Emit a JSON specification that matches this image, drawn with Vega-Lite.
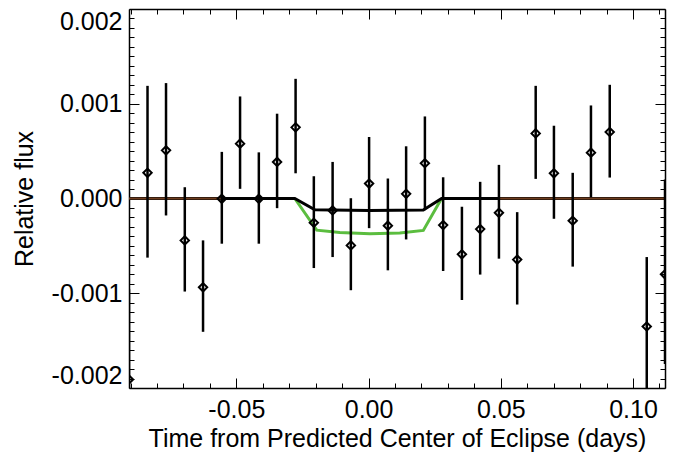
{
  "$schema": "https://vega.github.io/schema/vega-lite/v6.json",
  "width": 536,
  "height": 379,
  "autosize": "none",
  "padding": {"left": 129, "top": 9, "right": 18, "bottom": 67},
  "background": "white",
  "config": {
    "view": {"stroke": null},
    "font": "Liberation Sans",
    "axis": {
      "grid": false,
      "domainColor": "black",
      "domainWidth": 1.5,
      "tickColor": "black",
      "tickWidth": 1,
      "labelColor": "black",
      "labelFont": "Liberation Sans",
      "labelFontSize": 25,
      "titleFont": "Liberation Sans",
      "titleFontSize": 25,
      "titleFontWeight": "normal",
      "titleColor": "black",
      "labelOverlap": false,
      "labelBound": false
    }
  },
  "datasets": {
    "obs": [
      {"t": -0.0906, "flux": -0.00191, "lo": -0.00286, "hi": -0.000958},
      {"t": -0.0836, "flux": 0.000271, "lo": -0.000624, "hi": 0.001189},
      {"t": -0.0766, "flux": 0.000508, "lo": -0.000179, "hi": 0.001218},
      {"t": -0.0695, "flux": -0.000442, "lo": -0.000982, "hi": 0.000119},
      {"t": -0.0626, "flux": -0.000937, "lo": -0.001407, "hi": -0.000442},
      {"t": -0.0555, "flux": -0.000003, "lo": -0.000477, "hi": 0.000492},
      {"t": -0.0486, "flux": 0.000579, "lo": 0.000102, "hi": 0.001077},
      {"t": -0.0415, "flux": -0.000003, "lo": -0.000477, "hi": 0.000487},
      {"t": -0.0346, "flux": 0.000386, "lo": -0.000102, "hi": 0.000895},
      {"t": -0.0276, "flux": 0.000751, "lo": 0.000266, "hi": 0.001263},
      {"t": -0.0207, "flux": -0.000256, "lo": -0.000734, "hi": 0.000235},
      {"t": -0.0136, "flux": -0.000126, "lo": -0.000618, "hi": 0.000386},
      {"t": -0.0067, "flux": -0.000495, "lo": -0.000968, "hi": 0.000003},
      {"t": 0.0002, "flux": 0.000158, "lo": -0.000313, "hi": 0.000649},
      {"t": 0.0073, "flux": -0.000287, "lo": -0.000758, "hi": 0.000211},
      {"t": 0.0142, "flux": 0.000049, "lo": -0.000432, "hi": 0.000551},
      {"t": 0.0213, "flux": 0.000372, "lo": -0.000123, "hi": 0.000866},
      {"t": 0.0282, "flux": -0.000281, "lo": -0.000765, "hi": 0.000224},
      {"t": 0.0353, "flux": -0.000589, "lo": -0.001071, "hi": -0.000087},
      {"t": 0.0422, "flux": -0.000323, "lo": -0.000803, "hi": 0.000176},
      {"t": 0.0493, "flux": -0.000151, "lo": -0.000635, "hi": 0.000355},
      {"t": 0.0562, "flux": -0.000645, "lo": -0.001119, "hi": -0.000144},
      {"t": 0.0632, "flux": 0.000687, "lo": 0.000207, "hi": 0.001189},
      {"t": 0.0701, "flux": 0.000266, "lo": -0.000214, "hi": 0.000768},
      {"t": 0.0772, "flux": -0.000235, "lo": -0.000719, "hi": 0.000271},
      {"t": 0.0841, "flux": 0.000484, "lo": 0.000014, "hi": 0.000982},
      {"t": 0.0912, "flux": 0.000702, "lo": 0.000221, "hi": 0.0012},
      {"t": 0.1052, "flux": -0.001351, "lo": -0.002084, "hi": -0.000618},
      {"t": 0.1121, "flux": -0.0008, "lo": -0.001747, "hi": 0.0002}
    ],
    "green": [
      {"t": -0.0279, "flux": 0},
      {"t": -0.0196, "flux": -0.000334},
      {"t": -0.0109, "flux": -0.000358},
      {"t": 0.0005, "flux": -0.000373},
      {"t": 0.0118, "flux": -0.000363},
      {"t": 0.0207, "flux": -0.000337},
      {"t": 0.0276, "flux": 0}
    ],
    "black": [
      {"t": -0.0906, "flux": 0},
      {"t": -0.0279, "flux": 0},
      {"t": -0.0203, "flux": -0.000119},
      {"t": 0.0002, "flux": -0.000126},
      {"t": 0.0207, "flux": -0.000122},
      {"t": 0.0276, "flux": 0},
      {"t": 0.1121, "flux": 0}
    ],
    "brown": [
      {"t": -0.0906, "flux": 0, "seg": "a"},
      {"t": -0.0555, "flux": 0, "seg": "a"},
      {"t": 0.0493, "flux": 0, "seg": "b"},
      {"t": 0.1121, "flux": 0, "seg": "b"}
    ]
  },
  "layer": [
    {
      "data": {"name": "green"},
      "mark": {"type": "line", "color": "#5bbd3f", "strokeWidth": 3, "clip": true},
      "encoding": {
        "x": {"field": "t", "type": "quantitative", "scale": {"domain": [-0.0906, 0.1121], "nice": false, "zero": false},
          "axis": {
            "orient": "bottom",
            "values": [-0.09, -0.08, -0.07, -0.06, -0.05, -0.04, -0.03, -0.02, -0.01, 0, 0.01, 0.02, 0.03, 0.04, 0.05, 0.06, 0.07, 0.08, 0.09, 0.1, 0.11],
            "tickSize": {"condition": {"test": "abs(datum.value*20 - round(datum.value*20)) < 0.01", "value": -10}, "value": -5},
            "labelExpr": "abs(datum.value*20 - round(datum.value*20)) < 0.01 ? (datum.value < -1e-9 ? '-' : '') + format(abs(datum.value), '.2f') : ''",
            "labelPadding": 19,
            "labelFlush": false,
            "title": "Time from Predicted Center of Eclipse (days)",
            "titlePadding": -1
          }
        },
        "y": {"field": "flux", "type": "quantitative", "scale": {"domain": [-0.002, 0.002], "nice": false, "zero": false},
          "axis": {
            "orient": "left",
            "values": [-0.002, -0.0019, -0.0018, -0.0017, -0.0016, -0.0015, -0.0014, -0.0013, -0.0012, -0.0011, -0.001, -0.0009, -0.0008, -0.0007, -0.0006, -0.0005, -0.0004, -0.0003, -0.0002, -0.0001, 0, 0.0001, 0.0002, 0.0003, 0.0004, 0.0005, 0.0006, 0.0007, 0.0008, 0.0009, 0.001, 0.0011, 0.0012, 0.0013, 0.0014, 0.0015, 0.0016, 0.0017, 0.0018, 0.0019, 0.002],
            "tickSize": {"condition": {"test": "abs(datum.value*1000 - round(datum.value*1000)) < 0.01", "value": -10}, "value": -5},
            "labelExpr": "abs(datum.value*1000 - round(datum.value*1000)) < 0.01 ? (datum.value < -1e-9 ? '-' : '') + format(abs(datum.value), '.3f') : ''",
            "labelPadding": 17,
            "labelFlush": true,
            "title": "Relative flux",
            "titlePadding": 14
          }
        }
      }
    },
    {
      "data": {"name": "black"},
      "mark": {"type": "line", "color": "black", "strokeWidth": 3, "clip": true},
      "encoding": {
        "x": {"field": "t", "type": "quantitative", "scale": {"domain": [-0.0906, 0.1121], "nice": false, "zero": false},
          "axis": {
            "orient": "top",
            "values": [-0.09, -0.08, -0.07, -0.06, -0.05, -0.04, -0.03, -0.02, -0.01, 0, 0.01, 0.02, 0.03, 0.04, 0.05, 0.06, 0.07, 0.08, 0.09, 0.1, 0.11],
            "tickSize": {"condition": {"test": "abs(datum.value*20 - round(datum.value*20)) < 0.01", "value": -10}, "value": -5},
            "labels": false,
            "title": null
          }
        },
        "y": {"field": "flux", "type": "quantitative", "scale": {"domain": [-0.002, 0.002], "nice": false, "zero": false},
          "axis": {
            "orient": "right",
            "values": [-0.002, -0.0019, -0.0018, -0.0017, -0.0016, -0.0015, -0.0014, -0.0013, -0.0012, -0.0011, -0.001, -0.0009, -0.0008, -0.0007, -0.0006, -0.0005, -0.0004, -0.0003, -0.0002, -0.0001, 0, 0.0001, 0.0002, 0.0003, 0.0004, 0.0005, 0.0006, 0.0007, 0.0008, 0.0009, 0.001, 0.0011, 0.0012, 0.0013, 0.0014, 0.0015, 0.0016, 0.0017, 0.0018, 0.0019, 0.002],
            "tickSize": {"condition": {"test": "abs(datum.value*1000 - round(datum.value*1000)) < 0.01", "value": -10}, "value": -5},
            "labels": false,
            "title": null
          }
        }
      }
    },
    {
      "data": {"name": "brown"},
      "mark": {"type": "line", "color": "#6e3d1f", "strokeWidth": 1.8, "clip": true},
      "encoding": {
        "x": {"field": "t", "type": "quantitative", "axis": null},
        "y": {"field": "flux", "type": "quantitative", "axis": null},
        "detail": {"field": "seg"}
      }
    },
    {
      "data": {"name": "obs"},
      "mark": {"type": "rule", "color": "black", "strokeWidth": 2.5, "clip": true},
      "encoding": {
        "x": {"field": "t", "type": "quantitative", "axis": null},
        "y": {"field": "lo", "type": "quantitative", "axis": null},
        "y2": {"field": "hi"}
      }
    },
    {
      "data": {"name": "obs"},
      "mark": {"type": "point", "shape": "diamond", "filled": false, "color": "black", "strokeWidth": 2, "size": 70, "opacity": 1, "clip": true},
      "encoding": {
        "x": {"field": "t", "type": "quantitative", "axis": null},
        "y": {"field": "flux", "type": "quantitative", "axis": null}
      }
    }
  ],
  "resolve": {"axis": {"x": "independent", "y": "independent"}}
}
